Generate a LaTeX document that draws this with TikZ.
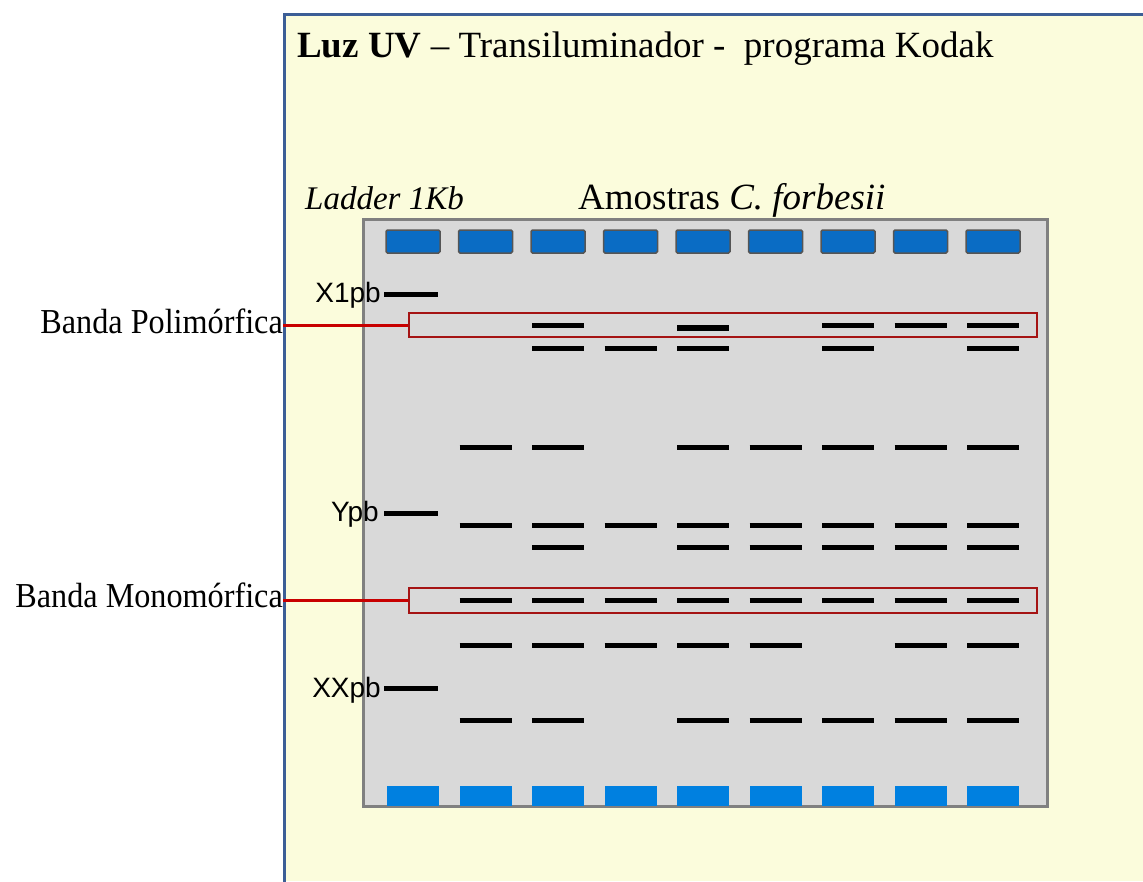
\documentclass[tikz,border=0pt]{standalone}
\usepackage{fontspec}
\setmainfont{Liberation Serif}
\newfontfamily\sansf{Liberation Sans}
\definecolor{panelY}{RGB}{251,252,220}
\definecolor{panelB}{RGB}{60,94,150}
\definecolor{gelG}{RGB}{217,217,217}
\definecolor{gelE}{RGB}{128,128,128}
\definecolor{wellT}{RGB}{10,108,196}
\definecolor{wellB}{RGB}{0,128,224}
\definecolor{wellE}{RGB}{85,85,85}
\definecolor{lineR}{RGB}{200,0,0}
\definecolor{boxR}{RGB}{165,20,20}
\tikzset{
  band/.style={line width=5pt},
  topwell/.style={fill=wellT,draw=wellE,line width=1.5pt,rounded corners=1.5pt},
  botwell/.style={fill=wellB},
  selbox/.style={draw=boxR,line width=2pt,inner sep=0pt},
  pointer/.style={draw=lineR,line width=3pt},
  ladlab/.style={font=\sansf\fontsize{28}{30}\selectfont,anchor=base east,inner sep=0pt},
  bandlab/.style={font=\fontsize{35}{37}\selectfont,anchor=base east,inner sep=0pt}
}
\begin{document}
\begin{tikzpicture}[x=1pt,y=-1pt]
\useasboundingbox (0,0) rectangle (1143,881);
\fill[white] (0,0) rectangle (1143,881);
% panel
\fill[panelY] (284,14) rectangle (1143,881);
\draw[panelB,line width=3pt] (284,883) -- (284,14) -- (1145,14);
% title
\node[anchor=base west,inner sep=0pt,font=\fontsize{37}{39}\selectfont] (title) at (297,57)
  {\textbf{Luz UV} -- Transiluminador -\ \ programa Kodak};
\node[anchor=base west,inner sep=0pt,font=\fontsize{33}{35}\selectfont\itshape] (ladder) at (305,209) {Ladder 1Kb};
\node[anchor=base west,inner sep=0pt,font=\fontsize{37}{39}\selectfont] (amostras) at (578,209)
  {Amostras \textit{C. forbesii}};
% gel
\draw[fill=gelG,draw=gelE,line width=3pt] (363,219) rectangle (1047,806);
% wells
\foreach \c in {413,485.5,558,630.5,703,775.5,848,920.5,993}{
  \draw[topwell] (\c-27,230) rectangle (\c+27,253);
  \fill[botwell] (\c-26,786) rectangle (\c+26,806);
}
% ladder bands
\draw[band] (384,294) -- (438,294);
\draw[band] (384,513) -- (438,513);
\draw[band] (384,688) -- (438,688);
\node[ladlab] (x1) at (381,302) {X1pb};
\node[ladlab] (y) at (379,521) {Ypb};
\node[ladlab] (xx) at (381,697) {XXpb};
% sample bands
\foreach \c/\ys in {
  485.5/{447,525,600,645,720},
  558/{325,348,447,525,547,600,645,720},
  630.5/{348,525,600,645},
  703/{348,447,525,547,600,645,720},
  775.5/{447,525,547,600,645,720},
  848/{325,348,447,525,547,600,720},
  920.5/{325,447,525,547,600,645,720},
  993/{325,348,447,525,547,600,645,720}}{
  \foreach \y in \ys { \draw[band] (\c-26,\y) -- (\c+26,\y); }
}
\draw[line width=6pt] (677,327.5) -- (729,327.5);
% selection boxes
\node[selbox,minimum width=628pt,minimum height=24pt] (poly) at (723,325) {};
\node[selbox,minimum width=628pt,minimum height=25pt] (mono) at (723,600.5) {};
% labels
\node[bandlab] (lpoly) at (283,333) {\scalebox{0.92}[1]{Banda Polimórfica}};
\node[bandlab] (lmono) at (283,607) {\scalebox{0.92}[1]{Banda Monomórfica}};
\draw[pointer] (lpoly.east |- poly.west) -- (poly.west);
\draw[pointer] (lmono.east |- mono.west) -- (mono.west);
\end{tikzpicture}
\end{document}
